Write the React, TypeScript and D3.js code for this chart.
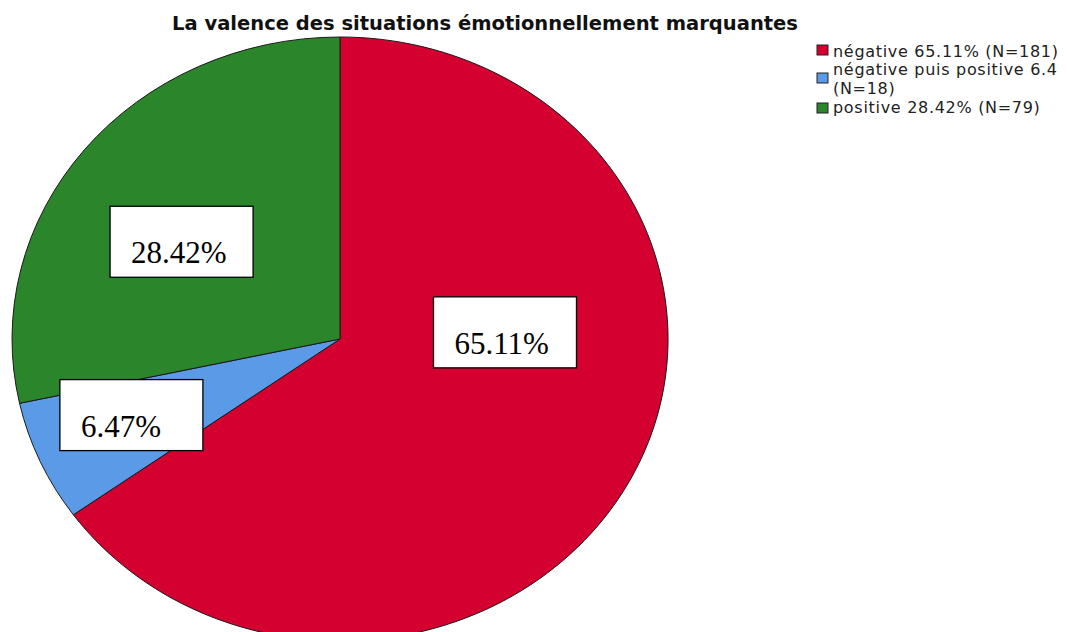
import * as React from 'react';
import * as d3 from 'd3';

const title = 'La valence des situations émotionnellement marquantes';
const categories = ['négative', 'négative puis positive', 'positive'];
const counts = [181, 18, 79];
const percents = ['65.11%', '6.47%', '28.42%'];
const colors = ['#d40030', '#5a9ae6', '#2a852b'];
const legendLines = [
  ['négative 65.11% (N=181)'],
  ['négative puis positive 6.4', '(N=18)'],
  ['positive 28.42% (N=79)'],
];
// label box centres, in units of the pie radii
const labelSpots = [
  [0.503, -0.022],
  [-0.636, 0.252],
  [-0.483, -0.322],
];

const W = 1067;
const H = 632;
const cx = 340;
const cy = 339;
const rx = 328;
const ry = 302;
const boxW = 143;
const boxH = 71;

const App = () => {
  const data = categories.map((c, i) => ({ name: c, value: counts[i], i }));
  const createPie = d3
    .pie<any>()
    .value((d) => d.value)
    .sort(null);
  const createArc = d3.arc<any>().innerRadius(0).outerRadius(1);
  const slices = createPie(data);

  return (
    <svg
      width={W}
      height={H}
      style={{ position: 'absolute', left: 0, top: 0, background: '#fff' }}>
      <text
        x={485}
        y={30}
        textAnchor='middle'
        fontFamily='DejaVu Sans'
        fontWeight='bold'
        fontSize='19'
        textLength={626}
        lengthAdjust='spacingAndGlyphs'
        fill='#111'>
        {title}
      </text>

      <g transform={`translate(${cx} ${cy}) scale(${rx} ${ry})`}>
        {slices.map((s, i) => (
          <path
            key={i}
            d={createArc(s) as string}
            fill={colors[s.data.i]}
            stroke='#1a1a1a'
            strokeWidth={1}
            vectorEffect='non-scaling-stroke'
          />
        ))}
      </g>

      {slices.map((s, i) => {
        const bx = cx + labelSpots[i][0] * rx - boxW / 2;
        const by = cy + labelSpots[i][1] * ry - boxH / 2;
        return (
          <g key={i}>
            <rect
              x={bx}
              y={by}
              width={boxW}
              height={boxH}
              fill='#fff'
              stroke='#000'
              strokeWidth={1.3}
            />
            <text
              x={bx + 21}
              y={by + 57}
              fontFamily='Liberation Serif'
              fontSize='31'
              fill='#000'>
              {percents[i]}
            </text>
          </g>
        );
      })}

      <g fontFamily='DejaVu Sans' fontSize='16' fill='#222'>
        {legendLines.map((lines, i) => {
          const base = [57, 75, 113][i];
          const sqY = [45, 73, 103][i];
          return (
            <g key={i}>
              <rect
                x={817}
                y={sqY}
                width={11}
                height={10}
                fill={colors[i]}
                stroke='#222'
                strokeWidth={1}
              />
              {lines.map((t, j) => (
                <text key={j} x={833} y={base + j * 19} letterSpacing={0.7}>
                  {t}
                </text>
              ))}
            </g>
          );
        })}
      </g>
    </svg>
  );
};

export default App;
